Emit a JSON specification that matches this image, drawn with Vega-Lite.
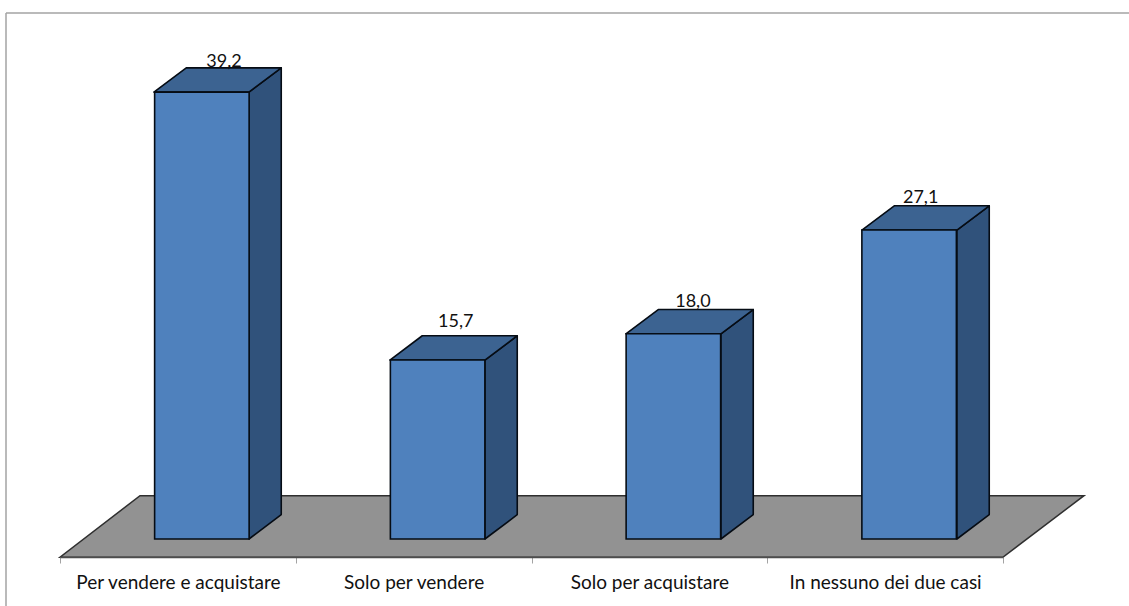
{
  "$schema": "https://vega.github.io/schema/vega-lite/v6.json",
  "width": 1123,
  "height": 593,
  "padding": {"left": 6, "top": 13, "right": 0, "bottom": 0},
  "autosize": "none",
  "background": "white",
  "config": {"view": {"stroke": null}, "axisQuantitative": {"disable": true}},
  "datasets": {
    "percentuali": [
      {"categoria": "Per vendere e acquistare", "valore": 39.2},
      {"categoria": "Solo per vendere", "valore": 15.7},
      {"categoria": "Solo per acquistare", "valore": 18.0},
      {"categoria": "In nessuno dei due casi", "valore": 27.1}
    ]
  },
  "resolve": {"scale": {"x": "independent"}},
  "layer": [
    {
      "layer": [
        {
          "data": {"values": [{"elemento": "cornice"}]},
          "mark": {"type": "rule", "stroke": "#a3a3a3", "strokeWidth": 1.5},
          "encoding": {
            "x": {"datum": -0.2288, "type": "quantitative", "scale": {"domain": [-0.2288, 4.5297]}, "axis": null}
          }
        },
        {
          "data": {"values": [{"elemento": "cornice"}]},
          "mark": {"type": "rule", "stroke": "#a3a3a3", "strokeWidth": 1.5},
          "encoding": {
            "y": {"datum": 46.14, "type": "quantitative", "scale": {"domain": [-5.877, 46.14]}, "axis": null}
          }
        },
        {
          "data": {"values": [{"elemento": "pavimento"}]},
          "transform": [
            {"calculate": "[0, 1, 2, 3]", "as": "k"},
            {"flatten": ["k"]},
            {"calculate": "[0, 0.339, 3.995, 4.339][datum.k]", "as": "px"},
            {"calculate": "[-1.6, -1.6, -1.6, 3.8][datum.k]", "as": "basso"},
            {"calculate": "[-1.6, 3.8, 3.8, 3.8][datum.k]", "as": "alto"}
          ],
          "mark": {"type": "area", "orient": "vertical", "fill": "#929292", "stroke": "#2f2f2f", "strokeWidth": 1.5, "strokeJoin": "miter"},
          "encoding": {
            "x": {"field": "px", "type": "quantitative", "scale": {"domain": [-0.2288, 4.5297]}, "axis": null},
            "y": {"field": "basso", "type": "quantitative", "stack": null, "scale": {"domain": [-5.877, 46.14]}, "axis": null},
            "y2": {"field": "alto"}
          }
        },
        {
          "data": {"name": "percentuali"},
          "transform": [
            {"window": [{"op": "row_number", "as": "n"}]},
            {"calculate": "datum.n - 1", "as": "i"},
            {"calculate": "[0, 1]", "as": "k"},
            {"flatten": ["k"]},
            {"calculate": "datum.i + 0.8005 + 0.137 * datum.k", "as": "px"},
            {"calculate": "2.13 * datum.k", "as": "basso"},
            {"calculate": "datum.valore + 2.13 * datum.k", "as": "alto"}
          ],
          "mark": {"type": "area", "orient": "vertical", "fill": "#30527b", "stroke": "#060c14", "strokeWidth": 1.6, "strokeJoin": "round"},
          "encoding": {
            "x": {"field": "px", "type": "quantitative", "scale": {"domain": [-0.2288, 4.5297]}, "axis": null},
            "y": {"field": "basso", "type": "quantitative", "stack": null, "scale": {"domain": [-5.877, 46.14]}, "axis": null},
            "y2": {"field": "alto"},
            "detail": {"field": "categoria"}
          }
        },
        {
          "data": {"name": "percentuali"},
          "transform": [
            {"window": [{"op": "row_number", "as": "n"}]},
            {"calculate": "datum.n - 1", "as": "i"},
            {"calculate": "[0, 1, 2, 3]", "as": "k"},
            {"flatten": ["k"]},
            {"calculate": "datum.i + 0.398 + [0, 0.137, 0.4025, 0.5395][datum.k]", "as": "px"},
            {"calculate": "datum.valore + [0, 0, 0, 2.13][datum.k]", "as": "basso"},
            {"calculate": "datum.valore + [0, 2.13, 2.13, 2.13][datum.k]", "as": "alto"}
          ],
          "mark": {"type": "area", "orient": "vertical", "fill": "#3c6391", "stroke": "#060c14", "strokeWidth": 1.6, "strokeJoin": "round"},
          "encoding": {
            "x": {"field": "px", "type": "quantitative", "scale": {"domain": [-0.2288, 4.5297]}, "axis": null},
            "y": {"field": "basso", "type": "quantitative", "stack": null, "scale": {"domain": [-5.877, 46.14]}, "axis": null},
            "y2": {"field": "alto"},
            "detail": {"field": "categoria"}
          }
        }
      ]
    },
    {
      "data": {"name": "percentuali"},
      "mark": {"type": "bar", "width": 94.5, "xOffset": 24, "fill": "#4f81bd", "stroke": "#060c14", "strokeWidth": 1.6},
      "encoding": {
        "x": {
          "field": "categoria",
          "type": "nominal",
          "sort": null,
          "title": null,
          "scale": {"range": [54, 997], "paddingInner": 0, "paddingOuter": 0},
          "axis": {
            "orient": "bottom",
            "offset": -49,
            "zindex": 1,
            "labelAngle": 0,
            "labelFont": "Lato",
            "labelFontSize": 19,
            "labelColor": "#111111",
            "labelPadding": 10,
            "labelLimit": 240,
            "domainColor": "#4d4d4d",
            "domainWidth": 1.5,
            "tickBand": "extent",
            "tickColor": "#a3a3a3",
            "tickSize": 6,
            "tickWidth": 1,
            "grid": false
          }
        },
        "y": {"field": "valore", "type": "quantitative", "stack": null, "scale": {"domain": [-5.877, 46.14]}, "axis": null}
      }
    },
    {
      "data": {"name": "percentuali"},
      "transform": [
        {"window": [{"op": "row_number", "as": "n"}]},
        {"calculate": "datum.n - 1", "as": "i"},
        {"calculate": "datum.i + [0.695, 0.677, 0.682, 0.647][datum.i]", "as": "px"},
        {"calculate": "datum.valore + [2.23, 2.9, 2.35, 2.37][datum.i]", "as": "py"},
        {"calculate": "replace(format(datum.valore, '.1f'), '.', ',')", "as": "etichetta"}
      ],
      "mark": {"type": "text", "font": "Lato", "fontSize": 18, "color": "#111111", "align": "center", "baseline": "alphabetic"},
      "encoding": {
        "x": {"field": "px", "type": "quantitative", "scale": {"domain": [-0.2288, 4.5297]}, "axis": null},
        "y": {"field": "py", "type": "quantitative", "scale": {"domain": [-5.877, 46.14]}, "axis": null},
        "text": {"field": "etichetta"}
      }
    }
  ]
}
